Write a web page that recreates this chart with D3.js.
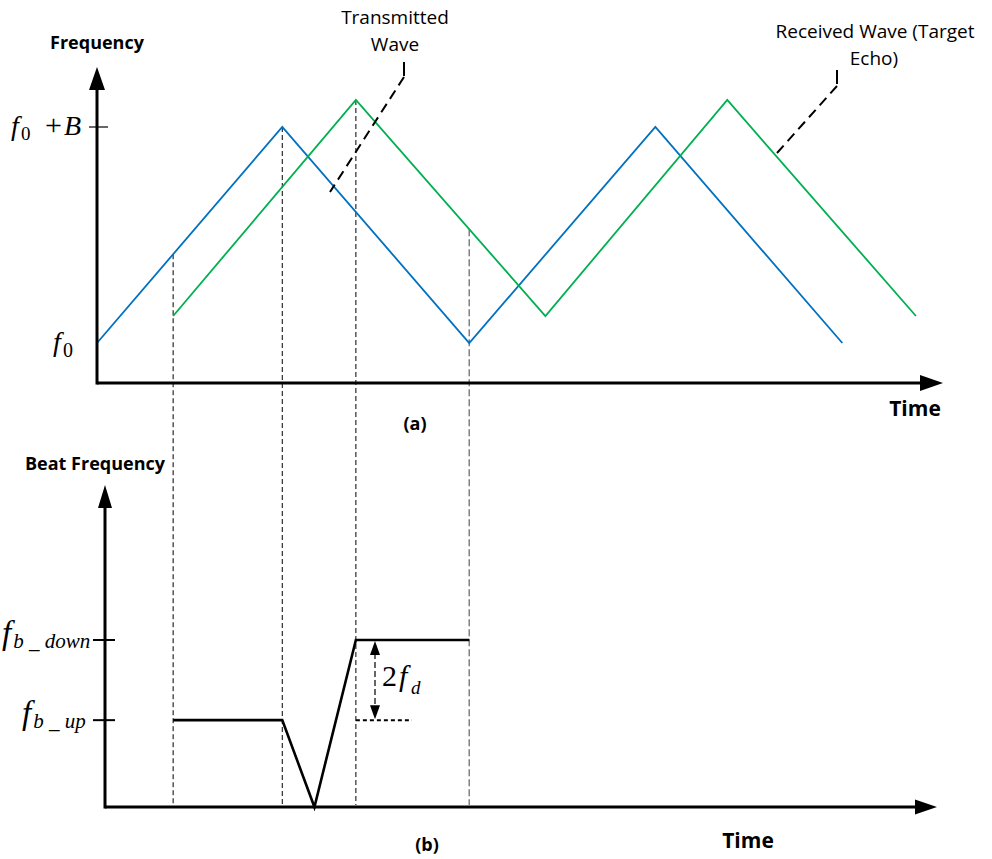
<!DOCTYPE html>
<html><head><meta charset="utf-8">
<script src="https://cdn.jsdelivr.net/npm/d3@7"></script>
<style>
html,body{margin:0;padding:0;background:#fff;}
svg{display:block;}
.lbl{font-family:"Open Sans",Lato,sans-serif;}
.math{font-family:"Liberation Serif","Times New Roman",serif;}
</style></head>
<body>
<svg id="c" width="992" height="859"></svg>
<script>
// ---- data (time in arbitrary units, frequency normalised: 0 = f0, 1 = f0 + B) ----
const txTime = [0, 21.9, 44.0, 66.0, 88.1];
const txFreq = [0, 1, 0, 1, 0];
const rxTime = [9.0, 30.6, 53.0, 74.5, 96.8];
const rxFreq = [0.125, 1.125, 0.125, 1.125, 0.125];
const beatTime = [9.0, 21.9, 25.7, 30.6, 44.0];
const beatFreq = [0.52, 0.52, 0, 1, 1];          // 0 = axis, 0.52 = f_b_up, 1 = f_b_down
const markerTimes = [9.0, 21.9, 30.6, 44.0];
const topTicks = [1];
const botTicks = [1, 0.52];

const svg = d3.select("#c");
const x = d3.scaleLinear().domain([0, 100]).range([97, 943]);
const yTop = d3.scaleLinear().domain([0, 1]).range([343, 127]);
const yBot = d3.scaleLinear().domain([0, 1]).range([807, 640]);

const BLUE = "#0070C0", GREEN = "#00B050";

function interp(ts, vs, t) {
  if (t < ts[0] || t > ts[ts.length - 1]) return -Infinity;
  for (let i = 0; i < ts.length - 1; i++) {
    if (t >= ts[i] && t <= ts[i + 1]) {
      const k = (t - ts[i]) / (ts[i + 1] - ts[i]);
      return vs[i] + k * (vs[i + 1] - vs[i]);
    }
  }
  return -Infinity;
}

// ---- vertical dashed marker lines ----
markerTimes.forEach((t, i) => {
  const top = Math.max(interp(txTime, txFreq, t), interp(rxTime, rxFreq, t));
  const last = i === markerTimes.length - 1;
  svg.append("line")
    .attr("x1", x(t)).attr("x2", x(t))
    .attr("y1", yTop(top)).attr("y2", yBot(0) - 2)
    .attr("stroke", last ? "#808080" : "#000")
    .attr("stroke-width", last ? 1.5 : 1)
    .attr("stroke-dasharray", last ? "7,3" : "5,3");
});

// ---- top panel waves ----
const lineTop = d3.line().x(d => x(d[0])).y(d => yTop(d[1]));
svg.append("path").datum(d3.zip(txTime, txFreq)).attr("d", lineTop)
  .attr("fill", "none").attr("stroke", BLUE).attr("stroke-width", 1.8);
svg.append("path").datum(d3.zip(rxTime, rxFreq)).attr("d", lineTop)
  .attr("fill", "none").attr("stroke", GREEN).attr("stroke-width", 1.8);

// ---- top axes ----
const topAxisY = 383;
svg.append("line").attr("x1", 97).attr("x2", 922).attr("y1", topAxisY).attr("y2", topAxisY)
  .attr("stroke", "#000").attr("stroke-width", 3);
svg.append("line").attr("x1", 97).attr("x2", 97).attr("y1", topAxisY + 1.5).attr("y2", 88)
  .attr("stroke", "#000").attr("stroke-width", 3);
svg.append("path").attr("d", "M97,67 L105,90 L89,90 Z").attr("fill", "#000");
svg.append("path").attr("d", `M943,${topAxisY} L920,${topAxisY - 8} L920,${topAxisY + 8} Z`).attr("fill", "#000");
topTicks.forEach(v => {
  svg.append("line").attr("x1", 89).attr("x2", 108).attr("y1", yTop(v)).attr("y2", yTop(v))
    .attr("stroke", "#000").attr("stroke-width", 1.2);
});

// top math labels
const t1 = svg.append("text").attr("class", "math").attr("y", yTop(1) + 8).attr("font-size", 28);
t1.append("tspan").attr("x", 11).attr("font-style", "italic").text("f");
t1.append("tspan").attr("x", 21).attr("font-size", 19).attr("dy", 5).text("0");
t1.append("tspan").attr("x", 45).attr("dy", -5).attr("font-size", 30).text("+");
t1.append("tspan").attr("x", 64).attr("font-style", "italic").text("B");

const t2 = svg.append("text").attr("class", "math").attr("y", yTop(0) + 8).attr("font-size", 28);
t2.append("tspan").attr("x", 53).attr("font-style", "italic").text("f");
t2.append("tspan").attr("x", 63).attr("font-size", 20).attr("dy", 6).text("0");

// titles top
svg.append("text").attr("class", "lbl").attr("x", 97).attr("y", 49).attr("text-anchor", "middle")
  .attr("font-weight", "bold").attr("font-size", 18).text("Frequency");
svg.append("text").attr("class", "lbl").attr("x", 915).attr("y", 416).attr("text-anchor", "middle")
  .attr("font-weight", "bold").attr("font-size", 21).text("Time");
svg.append("text").attr("class", "lbl").attr("x", 415).attr("y", 430).attr("text-anchor", "middle")
  .attr("font-weight", "bold").attr("font-size", 18).text("(a)");

// annotations
svg.append("text").attr("class", "lbl").attr("x", 395).attr("y", 24).attr("text-anchor", "middle")
  .attr("font-size", 19).text("Transmitted");
svg.append("text").attr("class", "lbl").attr("x", 395).attr("y", 51).attr("text-anchor", "middle")
  .attr("font-size", 19).text("Wave");
svg.append("line").attr("x1", 404).attr("x2", 404).attr("y1", 62).attr("y2", 76)
  .attr("stroke", "#000").attr("stroke-width", 2);
svg.append("line").attr("x1", 404).attr("y1", 77).attr("x2", 330).attr("y2", 192)
  .attr("stroke", "#000").attr("stroke-width", 2).attr("stroke-dasharray", "10,6");

svg.append("text").attr("class", "lbl").attr("x", 875).attr("y", 38).attr("text-anchor", "middle")
  .attr("font-size", 19).text("Received Wave (Target");
svg.append("text").attr("class", "lbl").attr("x", 874).attr("y", 65).attr("text-anchor", "middle")
  .attr("font-size", 19).text("Echo)");
svg.append("line").attr("x1", 837).attr("x2", 837).attr("y1", 70).attr("y2", 84)
  .attr("stroke", "#000").attr("stroke-width", 2);
svg.append("line").attr("x1", 837).attr("y1", 86).attr("x2", 777).attr("y2", 153)
  .attr("stroke", "#000").attr("stroke-width", 2).attr("stroke-dasharray", "10,6");

// ---- bottom panel ----
const botAxisY = yBot(0);
svg.append("line").attr("x1", 105).attr("x2", 916).attr("y1", botAxisY).attr("y2", botAxisY)
  .attr("stroke", "#000").attr("stroke-width", 3);
svg.append("line").attr("x1", 105).attr("x2", 105).attr("y1", botAxisY + 1.5).attr("y2", 505)
  .attr("stroke", "#000").attr("stroke-width", 3);
svg.append("path").attr("d", "M105,485 L112,508 L98,508 Z").attr("fill", "#000");
svg.append("path").attr("d", `M937,${botAxisY} L915,${botAxisY - 7.5} L915,${botAxisY + 7.5} Z`).attr("fill", "#000");
botTicks.forEach(v => {
  svg.append("line").attr("x1", 93).attr("x2", 115).attr("y1", yBot(v)).attr("y2", yBot(v))
    .attr("stroke", "#000").attr("stroke-width", 2);
});

const lineBot = d3.line().x(d => x(d[0])).y(d => yBot(d[1]));
svg.append("path").datum(d3.zip(beatTime, beatFreq)).attr("d", lineBot)
  .attr("fill", "none").attr("stroke", "#000").attr("stroke-width", 2.6).attr("stroke-linejoin", "miter");

// dotted reference at f_b_up after the jump
svg.append("line").attr("x1", x(beatTime[3])).attr("x2", 412)
  .attr("y1", yBot(beatFreq[0])).attr("y2", yBot(beatFreq[0]))
  .attr("stroke", "#000").attr("stroke-width", 2).attr("stroke-dasharray", "4,3");

// 2fd double arrow
const ax = 375;
const yA = yBot(1) + 1, yB = yBot(beatFreq[0]) - 1;
svg.append("line").attr("x1", ax).attr("x2", ax).attr("y1", yA + 12).attr("y2", yB - 12)
  .attr("stroke", "#000").attr("stroke-width", 1.2).attr("stroke-dasharray", "6,3");
svg.append("path").attr("d", `M${ax},${yA} L${ax + 5},${yA + 14} L${ax - 5},${yA + 14} Z`).attr("fill", "#000");
svg.append("path").attr("d", `M${ax},${yB} L${ax + 5},${yB - 14} L${ax - 5},${yB - 14} Z`).attr("fill", "#000");

const t3 = svg.append("text").attr("class", "math").attr("y", 686).attr("font-size", 30);
t3.append("tspan").attr("x", 382).text("2");
t3.append("tspan").attr("x", 399).attr("font-style", "italic").text("f");
t3.append("tspan").attr("x", 411).attr("font-style", "italic").attr("font-size", 19).attr("dy", 8).text("d");

// bottom math labels
const t4 = svg.append("text").attr("class", "math").attr("x", 2).attr("y", yBot(1) + 4).attr("font-size", 33);
t4.append("tspan").attr("font-style", "italic").text("f");
t4.append("tspan").attr("font-style", "italic").attr("font-size", 21).attr("dy", 4).attr("dx", 2).text("b _ down");

const t5 = svg.append("text").attr("class", "math").attr("x", 22).attr("y", yBot(0.52) + 4).attr("font-size", 33);
t5.append("tspan").attr("font-style", "italic").text("f");
t5.append("tspan").attr("font-style", "italic").attr("font-size", 21).attr("dy", 4).attr("dx", 2).text("b _ up");

svg.append("text").attr("class", "lbl").attr("x", 95).attr("y", 470).attr("text-anchor", "middle")
  .attr("font-weight", "bold").attr("font-size", 18).text("Beat Frequency");
svg.append("text").attr("class", "lbl").attr("x", 748).attr("y", 848).attr("text-anchor", "middle")
  .attr("font-weight", "bold").attr("font-size", 21).text("Time");
svg.append("text").attr("class", "lbl").attr("x", 427).attr("y", 851).attr("text-anchor", "middle")
  .attr("font-weight", "bold").attr("font-size", 18).text("(b)");
</script>
</body></html>
